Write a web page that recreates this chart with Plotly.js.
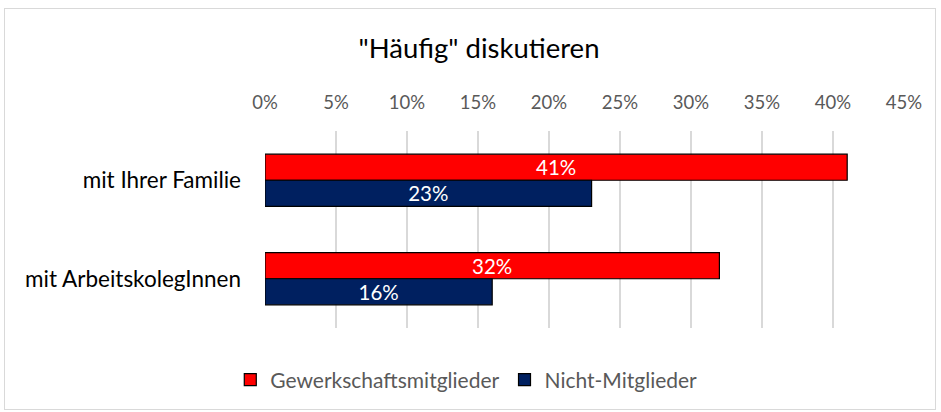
<!DOCTYPE html>
<html>
<head>
<meta charset="utf-8">
<script src="https://cdn.plot.ly/plotly-3.0.1.min.js"></script>
<style>
  html, body { margin: 0; padding: 0; background: #fff; }
  #wrap { position: relative; width: 941px; height: 412px; }
  #chart { width: 941px; height: 412px; }
  #frame { position: absolute; left: 4px; top: 8px; width: 932px; height: 402px; border: 1px solid #d9d9d9; pointer-events: none; box-sizing: border-box; }
</style>
</head>
<body>
<div id="wrap"><div id="chart"></div><div id="frame"></div></div>
<script>
const categories = ["mit Ihrer Familie", "mit ArbeitskolegInnen"];
const seriesNames = ["Gewerkschaftsmitglieder", "Nicht-Mitglieder"];
const members = [0.41, 0.32];
const nonMembers = [0.23, 0.16];
const tickValues = [0, 0.05, 0.10, 0.15, 0.20, 0.25, 0.30, 0.35, 0.40, 0.45];
const tickLabels = ["0%", "5%", "10%", "15%", "20%", "25%", "30%", "35%", "40%", "45%"];

const FONT = "Lato, 'Open Sans', sans-serif";

const traces = [
  {
    type: "bar", orientation: "h", name: seriesNames[0],
    y: categories, x: members,
    marker: { color: "#FF0000", line: { color: "#000000", width: 1.2 } },
    texttemplate: "%{x:.0%}", textposition: "inside", insidetextanchor: "middle",
    constraintext: "none",
    textfont: { color: "#ffffff", size: 20.5, family: FONT },
    hoverinfo: "skip"
  },
  {
    type: "bar", orientation: "h", name: seriesNames[1],
    y: categories, x: nonMembers,
    marker: { color: "#002060", line: { color: "#000000", width: 1.2 } },
    texttemplate: "%{x:.0%}", textposition: "inside", insidetextanchor: "middle",
    constraintext: "none",
    textfont: { color: "#ffffff", size: 20.5, family: FONT },
    hoverinfo: "skip"
  }
];

const layout = {
  width: 941, height: 412,
  margin: { l: 265, r: 37, t: 131, b: 84 },
  paper_bgcolor: "rgba(0,0,0,0)", plot_bgcolor: "#ffffff",
  font: { family: FONT, color: "#595959", size: 18 },
  title: {
    text: "\"Häufig\" diskutieren",
    font: { family: FONT, size: 27.5, color: "#000000" },
    x: 0.509, xref: "container", xanchor: "center",
    y: 0.883, yref: "container", yanchor: "middle"
  },
  barmode: "group",
  bargap: 0.47, bargroupgap: 0,
  xaxis: {
    side: "top", range: [0, 0.45],
    tickmode: "array", tickvals: tickValues, ticktext: tickLabels,
    showgrid: true, gridcolor: "#d9d9d9", gridwidth: 1.5,
    zeroline: false, showline: false, ticks: "",
    ticklabelstandoff: 17,
    tickfont: { family: FONT, size: 18.5, color: "#595959" },
    fixedrange: true
  },
  yaxis: {
    autorange: "reversed", type: "category",
    showgrid: false, zeroline: false, showline: false, ticks: "",
    ticklabelstandoff: 23,
    tickfont: { family: FONT, size: 22.5, color: "#000000" },
    fixedrange: true
  },
  legend: {
    orientation: "h", x: 0.315, xanchor: "center", y: -0.264, yanchor: "middle",
    font: { family: FONT, size: 21, color: "#595959" },
    itemwidth: 30, tracegroupgap: 0
  },
  showlegend: true
};

Plotly.newPlot("chart", traces, layout, { displayModeBar: false, staticPlot: true });
</script>
</body>
</html>
